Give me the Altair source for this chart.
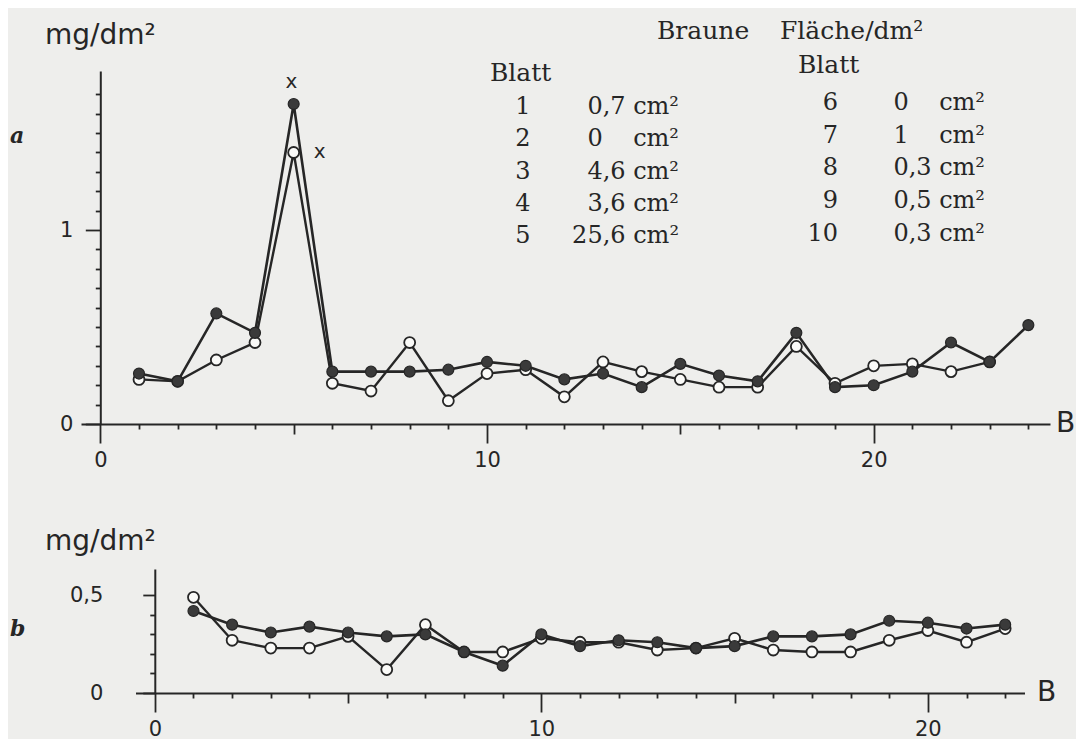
import altair as alt
import pandas as pd

# ---------------- data ----------------
blatt_a = list(range(1, 25))
a_dark = [0.26, 0.22, 0.57, 0.47, 1.65, 0.27, 0.27, 0.27, 0.28, 0.32, 0.30, 0.23,
          0.26, 0.19, 0.31, 0.25, 0.22, 0.47, 0.19, 0.20, 0.27, 0.42, 0.32, 0.51]
a_open = [0.23, 0.22, 0.33, 0.42, 1.40, 0.21, 0.17, 0.42, 0.12, 0.26, 0.28, 0.14,
          0.32, 0.27, 0.23, 0.19, 0.19, 0.40, 0.21, 0.30, 0.31, 0.27, 0.32, None]

blatt_b = list(range(1, 23))
b_dark = [0.42, 0.35, 0.31, 0.34, 0.31, 0.29, 0.30, 0.21, 0.14, 0.30, 0.24,
          0.27, 0.26, 0.23, 0.24, 0.29, 0.29, 0.30, 0.37, 0.36, 0.33, 0.35]
b_open = [0.49, 0.27, 0.23, 0.23, 0.29, 0.12, 0.35, 0.21, 0.21, 0.28, 0.26,
          0.26, 0.22, 0.23, 0.28, 0.22, 0.21, 0.21, 0.27, 0.32, 0.26, 0.33]

cross_x = [4.94, 5.67]
cross_y = [1.765, 1.40]

legend_left_nr = ["1", "2", "3", "4", "5"]
legend_left_val = ["0,7 cm²", "0\u2008\u2007 cm²", "4,6 cm²", "3,6 cm²", "25,6 cm²"]
legend_right_nr = ["6", "7", "8", "9", "10"]
legend_right_val = ["0\u2008\u2007 cm²", "1\u2008\u2007 cm²", "0,3 cm²", "0,5 cm²", "0,3 cm²"]

SANS = "DejaVu Sans"
SERIF = "DejaVu Serif"
INK = "#262626"
PAPER = "#eeeeec"


def series_frame(xs, vals):
    return pd.DataFrame({"blatt": xs, "wert": vals}).dropna()


def panel(xs, dark, opn, xs_, ys_, yoff, ymin_vals, ymaj_vals,
          ylab_pad, ymaj_size, xmaj_vals, xmid_vals, xmin_vals):
    d_dark = series_frame(xs, dark)
    d_open = series_frame(xs, opn)

    ax_minor_x = alt.Axis(orient="bottom", values=xmin_vals, tickSize=5, labels=False,
                          domain=True, domainColor=INK, domainWidth=2, tickColor=INK,
                          tickWidth=1.8, grid=False, title=None)
    ax_minor_y = alt.Axis(orient="left", values=ymin_vals, tickSize=5, labels=False,
                          domain=True, domainColor=INK, domainWidth=2, tickColor=INK,
                          tickWidth=1.8, grid=False, title=None, offset=yoff)
    ax_mid_x = alt.Axis(orient="bottom", values=xmid_vals, tickSize=10, labels=False,
                        domain=False, tickColor=INK, tickWidth=1.8, grid=False, title=None)
    ax_maj_y = alt.Axis(orient="left", values=ymaj_vals, tickSize=ymaj_size, labels=True,
                        labelFont=SANS, labelFontSize=21, labelColor=INK,
                        labelPadding=ylab_pad,
                        labelExpr="datum.value == 0 ? '0' : replace(format(datum.value, '.1~f'), '.', ',')",
                        domain=False, tickColor=INK, tickWidth=1.8, grid=False,
                        title=None, offset=yoff)
    ax_maj_x = alt.Axis(orient="bottom", values=xmaj_vals, tickSize=19, labels=True,
                        labelFont=SANS, labelFontSize=21, labelColor=INK, labelPadding=6,
                        labelFlush=False, labelOverlap=False,
                        domain=False, tickColor=INK, tickWidth=1.8, grid=False, title=None)

    lines_dark = alt.Chart(d_dark).mark_line(color=INK, strokeWidth=2.6).encode(
        x=alt.X("blatt:Q", scale=xs_, axis=ax_minor_x),
        y=alt.Y("wert:Q", scale=ys_, axis=ax_minor_y),
    )
    lines_open = alt.Chart(d_open).mark_line(color=INK, strokeWidth=2.4).encode(
        x=alt.X("blatt:Q", scale=xs_, axis=ax_mid_x),
        y=alt.Y("wert:Q", scale=ys_, axis=ax_maj_y),
    )
    pts_open = alt.Chart(d_open).mark_point(
        shape="circle", filled=True, fill="#fafaf8", stroke=INK, strokeWidth=1.8,
        size=120, opacity=1).encode(
        x=alt.X("blatt:Q", scale=xs_, axis=ax_maj_x),
        y=alt.Y("wert:Q", scale=ys_, axis=None),
    )
    pts_dark = alt.Chart(d_dark).mark_point(
        shape="circle", filled=True, fill="#3a3a3a", stroke=INK, strokeWidth=1.2,
        size=120, opacity=1).encode(
        x=alt.X("blatt:Q", scale=xs_, axis=None),
        y=alt.Y("wert:Q", scale=ys_, axis=None),
    )
    return [lines_open, lines_dark, pts_open, pts_dark]


def label(text, x, y, font=SANS, size=28, align="left", baseline="alphabetic",
          style="normal", weight="normal"):
    return alt.Chart(pd.DataFrame({"t": [text]})).mark_text(
        font=font, fontSize=size, align=align, baseline=baseline, color=INK,
        fontStyle=style, fontWeight=weight).encode(
        x=alt.value(x), y=alt.value(y), text="t:N")


# ---------------- panel a ----------------
W_A, H_A = 969, 353
xs_a = alt.Scale(domain=[-0.5, 24.56], nice=False, zero=False)
ys_a = alt.Scale(domain=[0, 1.82], nice=False, zero=False)
layers_a = panel(
    blatt_a, a_dark, a_open, xs_a, ys_a, -19.3,
    [round(0.1 * i, 1) for i in range(1, 18) if i != 10], [0, 1], 12.5, 15,
    [0, 10, 20], [5, 15], [i for i in range(1, 25) if i not in (5, 10, 15, 20)])

crosses = alt.Chart(pd.DataFrame({"bx": cross_x, "by": cross_y, "t": ["x", "x"]})).mark_text(
    font=SANS, fontSize=20, color=INK, baseline="middle").encode(
    x=alt.X("bx:Q", scale=xs_a, axis=None), y=alt.Y("by:Q", scale=ys_a, axis=None), text="t:N")

rows_l = pd.DataFrame({"nr": legend_left_nr, "val": legend_left_val, "row": list(range(5))})
rows_r = pd.DataFrame({"nr": legend_right_nr, "val": legend_right_val, "row": list(range(5))})

left_nr = alt.Chart(rows_l).transform_calculate(py="36 + 32.3*datum.row").mark_text(
    font=SERIF, fontSize=24, align="center", baseline="middle", color=INK).encode(
    x=alt.value(442), y=alt.Y("py:Q", scale=None, axis=None), text="nr:N")
left_val = alt.Chart(rows_l).transform_calculate(py="36 + 32.3*datum.row").mark_text(
    font=SERIF, fontSize=24, align="right", baseline="middle", color=INK).encode(
    x=alt.value(598), y=alt.Y("py:Q", scale=None, axis=None), text="val:N")
right_nr = alt.Chart(rows_r).transform_calculate(py="32 + 32.7*datum.row").mark_text(
    font=SERIF, fontSize=24, align="right", baseline="middle", color=INK).encode(
    x=alt.value(757), y=alt.Y("py:Q", scale=None, axis=None), text="nr:N")
right_val = alt.Chart(rows_r).transform_calculate(py="32 + 32.7*datum.row").mark_text(
    font=SERIF, fontSize=24, align="right", baseline="middle", color=INK).encode(
    x=alt.value(904), y=alt.Y("py:Q", scale=None, axis=None), text="val:N")

texts_a = [
    label("mg/dm²", -36, -27, size=28),
    label("a", -71, 65, font=SERIF, size=22, baseline="middle", style="italic", weight="bold"),
    label("B", 975, 353, size=28, baseline="middle"),
    label("Braune", 576, -40, font=SERIF, size=25, baseline="middle"),
    label("Fläche/dm²", 699, -40, font=SERIF, size=25, baseline="middle"),
    label("Blatt", 409, 2, font=SERIF, size=25, baseline="middle"),
    label("Blatt", 717, -6, font=SERIF, size=25, baseline="middle"),
]

chart_a = alt.layer(*layers_a, crosses, left_nr, left_val, right_nr, right_val, *texts_a).resolve_axis(
    x="independent", y="independent").properties(width=W_A, height=H_A)

# ---------------- panel b ----------------
W_B, H_B = 944, 124
xs_b = alt.Scale(domain=[-0.5, 22.5], range=[54.5, 943.5], nice=False, zero=False)
ys_b = alt.Scale(domain=[0, 0.635], nice=False, zero=False)
layers_b = panel(
    blatt_b, b_dark, b_open, xs_b, ys_b, -73.8,
    [0.1, 0.2, 0.3, 0.4], [0, 0.5], 40, 12,
    [0, 10, 20], [5, 15], [i for i in range(1, 23) if i not in (5, 10, 15, 20)])

texts_b = [
    label("mg/dm²", -36, -19, size=28),
    label("b", -71, 60, font=SERIF, size=22, baseline="middle", style="italic", weight="bold"),
    label("B", 956, 124, size=28, baseline="middle"),
]

chart_b = alt.layer(*layers_b, *texts_b).resolve_axis(
    x="independent", y="independent").properties(width=W_B, height=H_B)

chart = alt.vconcat(chart_a, chart_b, spacing=58).properties(
    padding={"left": 2, "top": 11, "right": 0, "bottom": 0},
    background=PAPER,
).configure_view(strokeWidth=0)

chart.save("out.html", embed_options={"renderer": "svg", "actions": False})
